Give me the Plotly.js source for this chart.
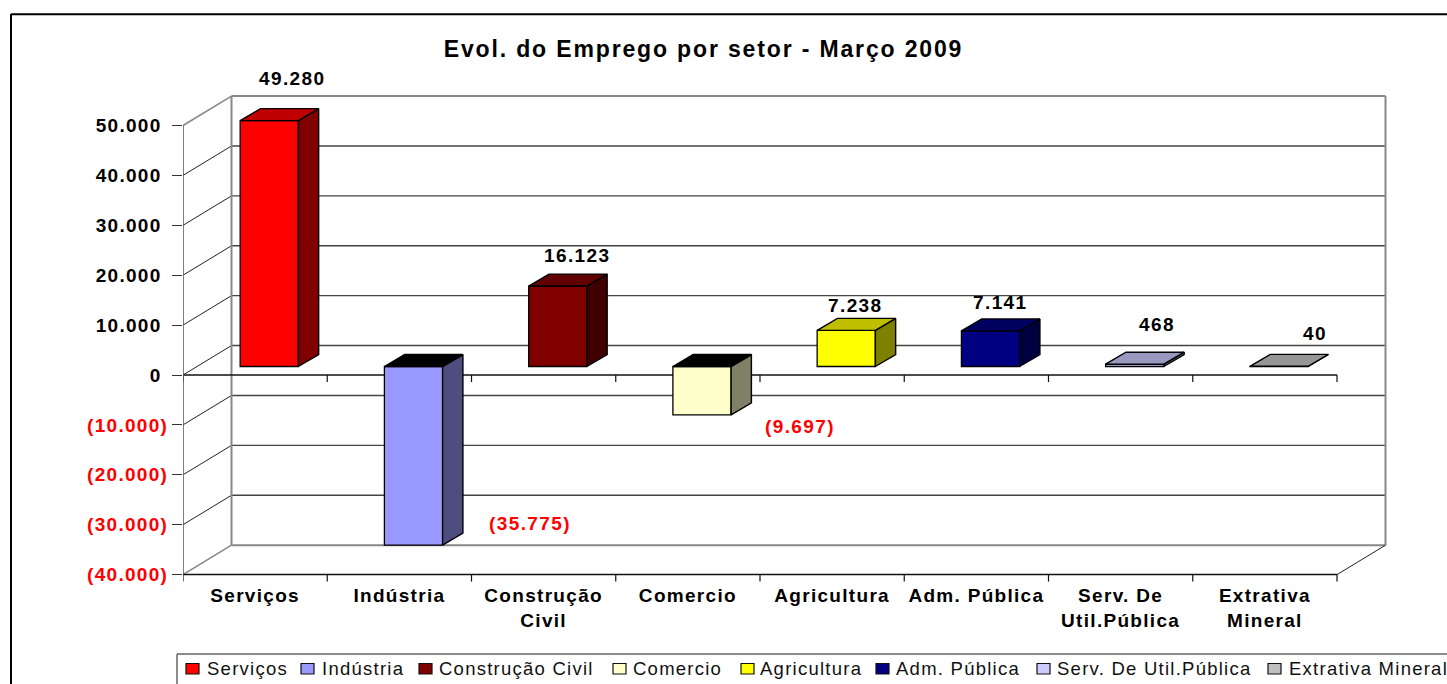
<!DOCTYPE html>
<html lang="pt">
<head>
<meta charset="utf-8">
<script src="https://cdn.plot.ly/plotly-3.0.1.min.js"></script>
<style>
html,body{margin:0;padding:0;background:#fff;overflow:hidden}
#chart{width:1447px;height:684px}
.xtick text,.ytick text{letter-spacing:1.3px}
.annotation-text{letter-spacing:1.4px}
.annotation-text[style*="font-size: 18.5px"]{letter-spacing:1.25px}
.gtitle{letter-spacing:1.85px}
</style>
</head>
<body>
<div id="chart"></div>
<script>
// ---- data ----
const categories = ['Serviços','Indústria','Construção<br>Civil','Comercio','Agricultura','Adm. Pública','Serv. De<br>Util.Pública','Extrativa<br>Mineral'];
const seriesNames = ['Serviços','Indústria','Construção Civil','Comercio','Agricultura','Adm. Pública','Serv. De Util.Pública','Extrativa Mineral'];
const values = [49280,-35775,16123,-9697,7238,7141,468,40];
const yTickValues = [50000,40000,30000,20000,10000,0,-10000,-20000,-30000,-40000];

// ---- colours ----
const frontColors = ['#FF0000','#9999FF','#800000','#FFFFCC','#FFFF00','#000080','#CCCCFF','#C0C0C0'];
const topColors   = ['#BF0000','#000000','#600000','#000000','#BFBF00','#000060','#9999BF','#969696'];
const sideColors  = ['#800000','#4D4D80','#400000','#808066','#808000','#000040','#666680','#606060'];

// ---- label and legend placement (pixels) ----
const labelShiftX = [23,116,20,98,9,10,22,36];
const labelShiftY = [42,22,31,-12,25,28,40,33];
const legendSwatchX = [186,301,419,613,741,876,1037,1268];
const legendTextX = [205,320,437,631,758,894,1055,1287];
const legendTextSpread = 1;

// ---- 3D geometry, in axis units ----
const plotL=183, plotR=1390, plotT=90, plotB=582;
const pxPerUnit=0.00499;
const xRange=[-0.5, -0.5+(plotR-plotL)/144.25];
const yLow=-40000-(plotB-574.6)/pxPerUnit;
const yRange=[yLow, yLow+(plotB-plotT)/pxPerUnit];
const wallDX=48.5/144.25, wallDY=5900;
const barBase=1700, barShift=0.098, barWidth=0.4035, barDX=0.1407, barDY=2400;
const tickDrop=1400;

const fmt=v=>Math.abs(v).toString().replace(/\B(?=(\d{3})+$)/g,'.');
const yTickText=yTickValues.map(v=>v<0?`<span style="color:#FF0000">(${fmt(v)})</span>`:fmt(v)+'\u00A0');
const labelText=values.map(v=>v<0?`(${fmt(v)})`:fmt(v));
const xIdx=categories.map((_,i)=>i);

const traces=[{
  type:'bar',x:xIdx.map(i=>i+barShift),y:values,base:values.map(()=>barBase),width:barWidth,
  marker:{color:frontColors,line:{color:'#000',width:1.3}},showlegend:false,hoverinfo:'skip'
}];
values.forEach((v,i)=>{
  const xl=i+barShift-barWidth/2,xr=xl+barWidth;
  const lo=Math.min(barBase,barBase+v),hi=Math.max(barBase,barBase+v);
  const poly=(xs,ys,c)=>traces.push({type:'scatter',mode:'lines',x:xs,y:ys,fill:'toself',fillcolor:c,
    line:{color:'#000',width:1.4},showlegend:false,hoverinfo:'skip'});
  poly([xr,xr+barDX,xr+barDX,xr,xr],[lo,lo+barDY,hi+barDY,hi,lo],sideColors[i]);
  poly([xl,xl+barDX,xr+barDX,xr,xl],[hi,hi+barDY,hi+barDY,hi,hi],topColors[i]);
});

const shapes=[];
const line=(x0,y0,x1,y1,c,w)=>shapes.push({type:'line',xref:'x',yref:'y',x0,y0,x1,y1,layer:'below',line:{color:c,width:w}});
const xL=xRange[0],xF=7.5,xB=xL+wallDX,xBR=xF+wallDX;
yTickValues.forEach(v=>{
  const edge=(v===50000||v===-40000);
  line(xB,v+wallDY,xBR,v+wallDY,edge?'#888':'#444',edge?2:1.4);
  line(xL,v,xB,v+wallDY,edge?'#888':'#222',edge?1.6:1);
});
line(xB,-40000+wallDY,xB,50000+wallDY,'#888',2);
line(xBR,-40000+wallDY,xBR,50000+wallDY,'#888',2);
line(xF,-40000,xBR,-40000+wallDY,'#222',1);
line(xL,-40000,xF,-40000,'#111',1.5);
line(xL,0,xF,0,'#111',1.5);
for(let i=0;i<=8;i++){
  line(i-0.5,0,i-0.5,-tickDrop,'#111',1.2);
  line(i-0.5,-40000,i-0.5,-40000-tickDrop,'#111',1.2);
}
// vertical axis line, kept unclipped on the plot edge
traces.push({type:'scatter',mode:'lines',x:[xL,xL],y:[-40000,50000],cliponaxis:false,
  line:{color:'#555',width:1.5},showlegend:false,hoverinfo:'skip'});

// page furniture in pixels
const px=x=>(x-plotL)/(plotR-plotL), py=y=>(plotB-y)/(plotB-plotT);
const pline=(x0,y0,x1,y1,c,w)=>shapes.push({type:'line',xref:'paper',yref:'paper',x0:px(x0),y0:py(y0),x1:px(x1),y1:py(y1),line:{color:c,width:w}});
pline(11,14.3,1447,14.3,'#000',2);
pline(11,14,11,684,'#000',2);
pline(177,654,1447,654,'#666',1.5);
pline(177,654,177,684,'#666',1.5);

const annotations=[];
legendSwatchX.forEach((x,i)=>{
  shapes.push({type:'rect',xref:'paper',yref:'paper',x0:px(x),x1:px(x+13),y0:py(663.5),y1:py(674),
    fillcolor:frontColors[i],line:{color:'#111',width:1.2}});
  annotations.push({xref:'paper',yref:'paper',x:px(legendTextX[i]),y:py(668),xanchor:'left',yanchor:'middle',
    showarrow:false,text:seriesNames[i],font:{family:'Liberation Sans, Arial, sans-serif',size:18.5,color:'#111'}});
});
values.forEach((v,i)=>{
  annotations.push({xref:'x',yref:'y',x:i+barShift,y:barBase+v,xshift:labelShiftX[i],yshift:labelShiftY[i],
    xanchor:'center',yanchor:'middle',showarrow:false,text:labelText[i],
    font:{family:'Liberation Sans, Arial, sans-serif',size:19,weight:700,color:v<0?'#FF0000':'#000'}});
});

const boldFont={family:'Liberation Sans, Arial, sans-serif',size:19,weight:700,color:'#000'};
const layout={
  width:1447,height:684,paper_bgcolor:'#fff',plot_bgcolor:'rgba(0,0,0,0)',showlegend:false,barmode:'overlay',
  margin:{l:plotL,r:1447-plotR,t:plotT,b:684-plotB,pad:0},
  title:{text:'Evol. do Emprego por setor - Março 2009',xref:'container',yref:'container',
    x:703.5/1447,xanchor:'center',y:1-49/684,yanchor:'middle',
    font:{family:'Liberation Sans, Arial, sans-serif',size:23,weight:700,color:'#000'}},
  xaxis:{range:xRange,tickmode:'array',tickvals:xIdx,ticktext:categories,showgrid:false,zeroline:false,showline:false,
    ticks:'',ticklabelstandoff:0,tickfont:boldFont,tickangle:0,automargin:false},
  yaxis:{range:yRange,tickmode:'array',tickvals:yTickValues,ticktext:yTickText,showgrid:false,zeroline:false,showline:false,
    ticks:'outside',ticklen:10,tickwidth:1.2,tickcolor:'#333',tickfont:boldFont,automargin:false},
  shapes,annotations
};
Plotly.newPlot('chart',traces,layout,{displayModeBar:false,responsive:false});
</script>
</body>
</html>
